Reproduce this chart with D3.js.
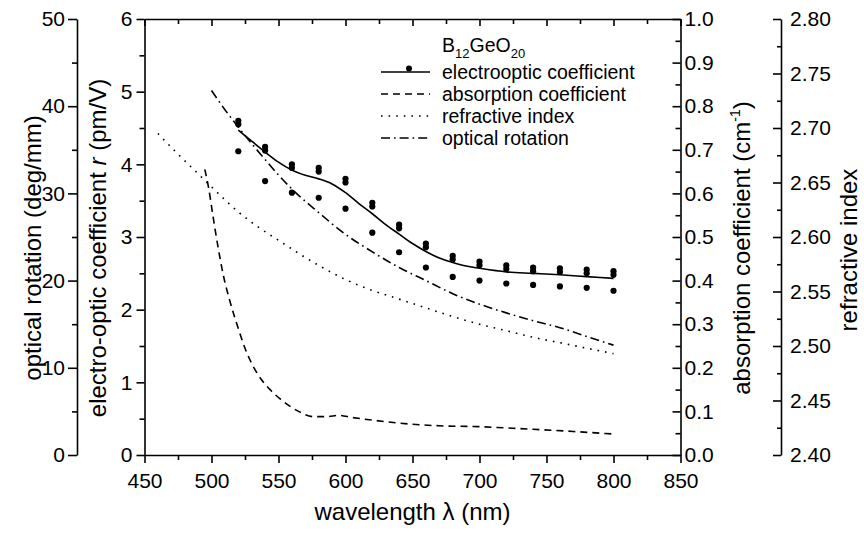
<!DOCTYPE html>
<html>
<head>
<meta charset="utf-8">
<script src="https://cdn.jsdelivr.net/npm/d3@7"></script>
<style>
  body { margin: 0; background: #fff; }
  svg { font-family: "Liberation Sans", Arial, sans-serif; }
  .axis path, .axis line { stroke: #000; stroke-width: 1.6; }
  .axis text { font-size: 21px; fill: #000; }
  .title { font-size: 24px; fill: #000; }
  .legend text { font-size: 19.5px; fill: #000; }
</style>
</head>
<body>
<svg width="864" height="538"></svg>
<script>
'use strict';

// wavelengths of the measured electrooptic points (nm)
const eoWave = [520, 540, 560, 580, 600, 620, 640, 660, 680, 700, 720, 740, 760, 780, 800];
// two close measurements on the upper row, one on the lower row (pm/V)
const eoUpperA = [4.60, 4.24, 4.00, 3.95, 3.80, 3.47, 3.17, 2.91, 2.74, 2.66, 2.61, 2.58, 2.57, 2.55, 2.53];
const eoUpperB = [4.55, 4.19, 3.95, 3.90, 3.75, 3.42, 3.12, 2.86, 2.69, 2.61, 2.56, 2.53, 2.52, 2.50, 2.48];
const eoLower = [4.18, 3.77, 3.61, 3.54, 3.39, 3.06, 2.79, 2.58, 2.45, 2.40, 2.36, 2.34, 2.32, 2.30, 2.26];

// fit curve for electrooptic coefficient
const fitWave = [520, 530, 540, 550, 560, 570, 580, 590, 600, 610, 620, 630, 640, 650, 660, 670, 680, 690, 700, 720, 740, 760, 780, 800];
const fitR = [4.47, 4.32, 4.17, 4.03, 3.92, 3.85, 3.80, 3.73, 3.61, 3.46, 3.32, 3.17, 3.04, 2.91, 2.80, 2.71, 2.65, 2.60, 2.57, 2.52, 2.50, 2.48, 2.455, 2.43];

// absorption coefficient (cm^-1)
const absWave = [495, 498, 501, 505, 509, 514, 520, 525, 530, 535, 544, 554, 565, 576, 586, 595, 605, 620, 640, 670, 700, 720, 740, 770, 800];
const absVal = [0.655, 0.61, 0.55, 0.475, 0.41, 0.35, 0.29, 0.245, 0.21, 0.183, 0.149, 0.122, 0.100, 0.088, 0.088, 0.091, 0.086, 0.080, 0.073, 0.067, 0.065, 0.062, 0.059, 0.054, 0.048];

// refractive index
const nWave = [460, 475, 490, 505, 520, 535, 550, 565, 580, 600, 620, 640, 660, 680, 700, 720, 740, 760, 780, 800];
const nVal = [2.695, 2.676, 2.658, 2.640, 2.623, 2.609, 2.597, 2.585, 2.574, 2.561, 2.551, 2.543, 2.535, 2.527, 2.520, 2.514, 2.508, 2.503, 2.498, 2.493];

// optical rotation (deg/mm)
const rotWave = [500, 510, 520, 530, 540, 550, 560, 580, 600, 620, 640, 660, 680, 700, 720, 740, 760, 780, 800];
const rotVal = [41.8, 39.6, 37.6, 35.7, 33.9, 32.1, 30.5, 27.8, 25.3, 23.3, 21.5, 20.0, 18.5, 17.3, 16.3, 15.4, 14.6, 13.6, 12.6];

const legendLabels = ["electrooptic coefficient", "absorption coefficient", "refractive index", "optical rotation"];

const svg = d3.select("svg");
const pLeft = 144.5, pRight = 680.5, pTop = 19, pBottom = 455;

const x = d3.scaleLinear().domain([450, 850]).range([pLeft, pRight]);
const yR = d3.scaleLinear().domain([0, 6]).range([pBottom, pTop]);
const yRot = d3.scaleLinear().domain([0, 50]).range([pBottom, pTop]);
const yAbs = d3.scaleLinear().domain([0, 1]).range([pBottom, pTop]);
const yN = d3.scaleLinear().domain([2.4, 2.8]).range([pBottom, pTop]);

function tickRange(a, b, step) {
    const out = [];
    for (let i = 0; a + i * step <= b + 1e-9; i++) out.push(+(a + i * step).toFixed(4));
    return out;
}

function drawAxis(axis, tx, ty, minor) {
    const g = svg.append("g").attr("class", "axis")
        .attr("transform", "translate(" + tx + "," + ty + ")")
        .call(axis);
    if (minor) {
        svg.append("g").attr("class", "axis")
            .attr("transform", "translate(" + tx + "," + ty + ")")
            .call(minor)
            .select(".domain").remove();
    }
    return g;
}

// bottom x axis
drawAxis(d3.axisBottom(x).tickValues(tickRange(450, 850, 50)).tickSize(8).tickSizeOuter(0).tickPadding(10),
    0, pBottom,
    d3.axisBottom(x).tickValues(tickRange(475, 825, 50)).tickSize(5).tickFormat(""));
// top border with inward ticks
drawAxis(d3.axisTop(x).tickValues(tickRange(450, 850, 50)).tickSizeInner(-7).tickSizeOuter(0).tickFormat(""),
    0, pTop,
    d3.axisTop(x).tickValues(tickRange(475, 825, 50)).tickSizeInner(-5).tickFormat(""));

// left: electrooptic coefficient
drawAxis(d3.axisLeft(yR).tickValues(tickRange(0, 6, 1)).tickSize(8).tickSizeOuter(0).tickPadding(4).tickFormat(d3.format("d")),
    pLeft, 0,
    d3.axisLeft(yR).tickValues(tickRange(0.5, 5.5, 1)).tickSize(5).tickFormat(""));

// outer left: optical rotation
drawAxis(d3.axisLeft(yRot).tickValues(tickRange(0, 50, 10)).tickSize(9).tickSizeOuter(0).tickPadding(3).tickFormat(d3.format("d")),
    77, 0,
    d3.axisLeft(yRot).tickValues(tickRange(5, 45, 10)).tickSize(5).tickFormat(""));

// right: absorption coefficient
drawAxis(d3.axisRight(yAbs).tickValues(tickRange(0, 1, 0.1)).tickSizeInner(-8).tickSizeOuter(0).tickPadding(4).tickFormat(d3.format(".1f")),
    pRight, 0,
    d3.axisRight(yAbs).tickValues(tickRange(0.05, 0.95, 0.1)).tickSizeInner(-5).tickFormat(""));

// outer right: refractive index
drawAxis(d3.axisRight(yN).tickValues(tickRange(2.4, 2.8, 0.05)).tickSizeInner(-8).tickSizeOuter(0).tickPadding(9).tickFormat(d3.format(".2f")),
    781, 0,
    d3.axisRight(yN).tickValues(tickRange(2.425, 2.775, 0.05)).tickSizeInner(-4).tickFormat(""));

// axis titles
svg.append("text").attr("class", "title")
    .attr("x", 412.5).attr("y", 520).attr("text-anchor", "middle")
    .text("wavelength \u03bb (nm)");

svg.append("text").attr("class", "title")
    .attr("transform", "translate(41,248) rotate(-90)").attr("text-anchor", "middle")
    .text("optical rotation (deg/mm)");

const eoTitle = svg.append("text").attr("class", "title")
    .attr("transform", "translate(106,248) rotate(-90)").attr("text-anchor", "middle");
eoTitle.append("tspan").text("electro-optic coefficient ");
eoTitle.append("tspan").attr("font-style", "italic").text("r");
eoTitle.append("tspan").text(" (pm/V)");

const absTitle = svg.append("text").attr("class", "title")
    .attr("transform", "translate(750,248) rotate(-90)").attr("text-anchor", "middle");
absTitle.append("tspan").text("absorption coefficient (cm");
absTitle.append("tspan").attr("font-size", "14px").attr("dy", -10).text("-1");
absTitle.append("tspan").attr("dy", 10).text(")");

svg.append("text").attr("class", "title")
    .attr("transform", "translate(857,250) rotate(-90)").attr("text-anchor", "middle")
    .text("refractive index");

// curves
const plot = svg.append("g").attr("fill", "none").attr("stroke", "#000").attr("stroke-width", 1.6);

function curve(wave, vals, yScale, dash) {
    const line = d3.line()
        .x((d, i) => x(wave[i]))
        .y(d => yScale(d))
        .curve(d3.curveMonotoneX);
    plot.append("path").attr("d", line(vals)).attr("stroke-dasharray", dash);
}

curve(fitWave, fitR, yR, null);
curve(absWave, absVal, yAbs, "7,5");
curve(nWave, nVal, yN, "1.6,6");
curve(rotWave, rotVal, yRot, "9,4,1.6,4");

// measured points
[eoUpperA, eoUpperB, eoLower].forEach(function (row) {
    svg.append("g").selectAll("circle")
        .data(row)
        .enter().append("circle")
        .attr("cx", (d, i) => x(eoWave[i]))
        .attr("cy", d => yR(d))
        .attr("r", 3.1)
        .attr("fill", "#000");
});

// legend
const legend = svg.append("g").attr("class", "legend");
const lt = legend.append("text").attr("x", 442).attr("y", 52);
lt.append("tspan").text("B");
lt.append("tspan").attr("font-size", "13px").attr("dy", 6).text("12");
lt.append("tspan").attr("dy", -6).text("GeO");
lt.append("tspan").attr("font-size", "13px").attr("dy", 6).text("20");

const dashes = [null, "7,5", "1.6,6", "9,4,1.6,4"];
legendLabels.forEach(function (label, i) {
    const yy = 79 + i * 22;
    legend.append("line")
        .attr("x1", 381).attr("x2", 430)
        .attr("y1", yy - 7).attr("y2", yy - 7)
        .attr("stroke", "#000").attr("stroke-width", 1.6)
        .attr("stroke-dasharray", dashes[i]);
    legend.append("text").attr("x", 442).attr("y", yy).text(label);
});
legend.append("circle").attr("cx", 409).attr("cy", 68.5).attr("r", 3).attr("fill", "#000");
</script>
</body>
</html>
